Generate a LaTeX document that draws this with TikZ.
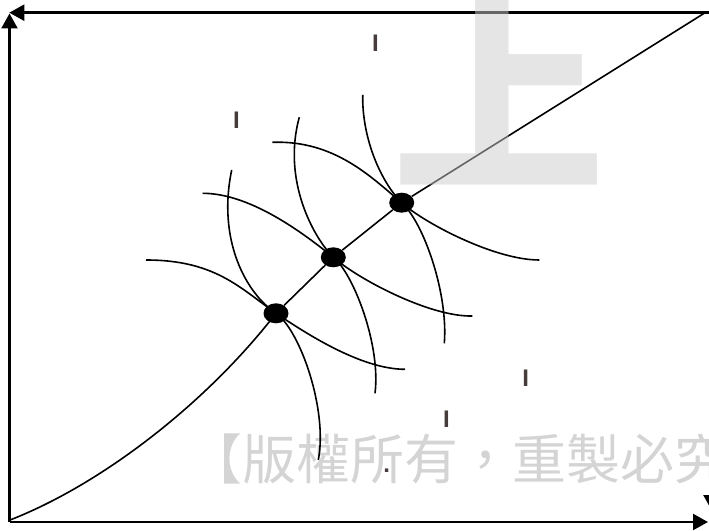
\documentclass[tikz,border=0pt]{standalone}
\usepackage{fontspec}
\newfontfamily\cjk{Noto Sans CJK TC}
\newfontfamily\labelfont{Liberation Sans}
\usetikzlibrary{arrows.meta,shapes.geometric}
\definecolor{markbrown}{RGB}{70,60,60}
\tikzset{
  axis/.style={line width=2.4pt,-{Triangle[length=15pt,width=16pt]}},
  indiff/.style={line width=1.6pt},
  eqpt/.style={ellipse,fill=black,minimum width=25pt,minimum height=20pt,inner sep=0pt},
  marktext/.style={inner sep=0pt,text=markbrown,font=\labelfont\bfseries\fontsize{24}{24}\selectfont}
}
\begin{document}
\begin{tikzpicture}[x=1pt,y=1pt]
    \useasboundingbox (0,0) rectangle (709,530);
    \clip (0,0) rectangle (709,530);
    % watermark below
    \node[anchor=base west,inner sep=0pt,text=black!17,font=\cjk\fontsize{54}{54}\selectfont] (note) at (188,51) {【版權所有，重製必究】};
    % box
    \coordinate (oa) at (10,10);
    \coordinate (ob) at (706.7,518.3);
    \draw[axis] (9.5,8) -- (9.5,516.5);
    \draw[axis] (711.5,517.3) -- (9.3,517.3);
    \draw[axis] (9.5,8) -- (708,8);
    \draw[axis] (711.5,517.3) -- (711.5,20);
    % tangency points
    \node[eqpt] (p1) at (276,216.7) {};
    \node[eqpt] (p2) at (333.3,272.7) {};
    \node[eqpt] (p3) at (401.7,327.3) {};
    % contract curve
    \draw[indiff] (oa) .. controls (100,45) and (205,125) .. (p1.center);
    \draw[indiff] (p1) -- (p2);
    \draw[indiff] (p2) -- (p3);
    \draw[indiff] (p3) -- (ob);
    % indifference curves
    \draw[indiff] (231.7,360) .. controls (217,290) and (246,236.7) .. (p1.center)
        .. controls (303,198.7) and (360,160.7) .. (405,160.7);
    \draw[indiff] (146,270) .. controls (215,270) and (240,242) .. (p1.center)
        .. controls (300,200) and (328,120) .. (318.3,70);
    \draw[indiff] (299.3,412.7) .. controls (282,350) and (313.3,292.7) .. (p2.center)
        .. controls (358.3,250.7) and (430,213) .. (472.3,214);
    \draw[indiff] (202.7,336.7) .. controls (252.7,336.7) and (308.3,292.7) .. (p2.center)
        .. controls (353.3,256.7) and (381,185) .. (375,136.7);
    \draw[indiff] (362.7,435) .. controls (362,390) and (381.7,347.3) .. (p3.center)
        .. controls (423.7,307.3) and (494.3,270) .. (539.3,270);
    \draw[indiff] (272.3,387.7) .. controls (335,390) and (371.7,352.3) .. (p3.center)
        .. controls (423.7,307.3) and (448.3,236.7) .. (444.3,186.7);
    % small marks
    \node[marktext] (m1) at (375.5,487) {I};
    \node[marktext] (m2) at (236.5,410) {I};
    \node[marktext] (m3) at (525.8,151.7) {I};
    \node[marktext] (m4) at (446.5,111) {I};
    \node[marktext] (m5) at (386.7,59.3) {.};
    % watermark above
    \node[anchor=base,inner sep=0pt,text=black!20,opacity=0.5,font=\cjk\bfseries\fontsize{213}{213}\selectfont] (mark) at (499,354) {上};
\end{tikzpicture}
\end{document}
